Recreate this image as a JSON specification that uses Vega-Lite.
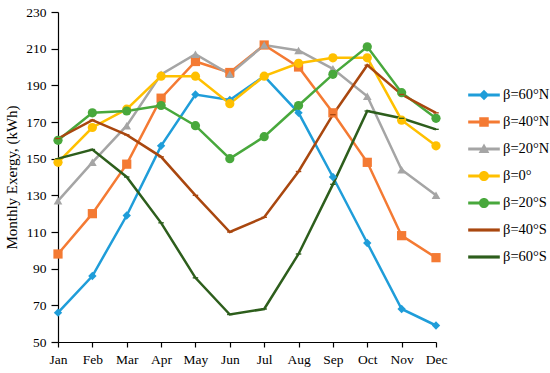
{
  "$schema": "https://vega.github.io/schema/vega-lite/v6.json",
  "autosize": {"type": "none"},
  "padding": {"left": 58, "top": 12, "right": 114, "bottom": 31},
  "width": 378,
  "height": 330,
  "background": "white",
  "config": {
    "view": {"stroke": null},
    "font": "Liberation Serif",
    "axis": {"grid": false, "domainColor": "#000000", "tickColor": "#000000", "labelColor": "#000000", "titleColor": "#000000", "labelFont": "Liberation Serif", "titleFont": "Liberation Serif", "domainWidth": 1.2, "tickWidth": 1.2}
  },
  "data": {"values": [
    {"month": "Jan", "series": "β=60°N", "value": 66},
    {"month": "Feb", "series": "β=60°N", "value": 86},
    {"month": "Mar", "series": "β=60°N", "value": 119},
    {"month": "Apr", "series": "β=60°N", "value": 157},
    {"month": "May", "series": "β=60°N", "value": 185},
    {"month": "Jun", "series": "β=60°N", "value": 182},
    {"month": "Jul", "series": "β=60°N", "value": 195},
    {"month": "Aug", "series": "β=60°N", "value": 175},
    {"month": "Sep", "series": "β=60°N", "value": 140},
    {"month": "Oct", "series": "β=60°N", "value": 104},
    {"month": "Nov", "series": "β=60°N", "value": 68},
    {"month": "Dec", "series": "β=60°N", "value": 59},
    {"month": "Jan", "series": "β=40°N", "value": 98},
    {"month": "Feb", "series": "β=40°N", "value": 120},
    {"month": "Mar", "series": "β=40°N", "value": 147},
    {"month": "Apr", "series": "β=40°N", "value": 183},
    {"month": "May", "series": "β=40°N", "value": 203},
    {"month": "Jun", "series": "β=40°N", "value": 197},
    {"month": "Jul", "series": "β=40°N", "value": 212},
    {"month": "Aug", "series": "β=40°N", "value": 200},
    {"month": "Sep", "series": "β=40°N", "value": 175},
    {"month": "Oct", "series": "β=40°N", "value": 148},
    {"month": "Nov", "series": "β=40°N", "value": 108},
    {"month": "Dec", "series": "β=40°N", "value": 96},
    {"month": "Jan", "series": "β=20°N", "value": 127},
    {"month": "Feb", "series": "β=20°N", "value": 148},
    {"month": "Mar", "series": "β=20°N", "value": 168},
    {"month": "Apr", "series": "β=20°N", "value": 196},
    {"month": "May", "series": "β=20°N", "value": 207},
    {"month": "Jun", "series": "β=20°N", "value": 196},
    {"month": "Jul", "series": "β=20°N", "value": 212},
    {"month": "Aug", "series": "β=20°N", "value": 209},
    {"month": "Sep", "series": "β=20°N", "value": 199},
    {"month": "Oct", "series": "β=20°N", "value": 184},
    {"month": "Nov", "series": "β=20°N", "value": 144},
    {"month": "Dec", "series": "β=20°N", "value": 130},
    {"month": "Jan", "series": "β=0°", "value": 148},
    {"month": "Feb", "series": "β=0°", "value": 167},
    {"month": "Mar", "series": "β=0°", "value": 177},
    {"month": "Apr", "series": "β=0°", "value": 195},
    {"month": "May", "series": "β=0°", "value": 195},
    {"month": "Jun", "series": "β=0°", "value": 180},
    {"month": "Jul", "series": "β=0°", "value": 195},
    {"month": "Aug", "series": "β=0°", "value": 202},
    {"month": "Sep", "series": "β=0°", "value": 205},
    {"month": "Oct", "series": "β=0°", "value": 205},
    {"month": "Nov", "series": "β=0°", "value": 171},
    {"month": "Dec", "series": "β=0°", "value": 157},
    {"month": "Jan", "series": "β=20°S", "value": 160},
    {"month": "Feb", "series": "β=20°S", "value": 175},
    {"month": "Mar", "series": "β=20°S", "value": 176},
    {"month": "Apr", "series": "β=20°S", "value": 179},
    {"month": "May", "series": "β=20°S", "value": 168},
    {"month": "Jun", "series": "β=20°S", "value": 150},
    {"month": "Jul", "series": "β=20°S", "value": 162},
    {"month": "Aug", "series": "β=20°S", "value": 179},
    {"month": "Sep", "series": "β=20°S", "value": 196},
    {"month": "Oct", "series": "β=20°S", "value": 211},
    {"month": "Nov", "series": "β=20°S", "value": 186},
    {"month": "Dec", "series": "β=20°S", "value": 172},
    {"month": "Jan", "series": "β=40°S", "value": 161},
    {"month": "Feb", "series": "β=40°S", "value": 171},
    {"month": "Mar", "series": "β=40°S", "value": 163},
    {"month": "Apr", "series": "β=40°S", "value": 151},
    {"month": "May", "series": "β=40°S", "value": 130},
    {"month": "Jun", "series": "β=40°S", "value": 110},
    {"month": "Jul", "series": "β=40°S", "value": 118},
    {"month": "Aug", "series": "β=40°S", "value": 143},
    {"month": "Sep", "series": "β=40°S", "value": 174},
    {"month": "Oct", "series": "β=40°S", "value": 201},
    {"month": "Nov", "series": "β=40°S", "value": 185},
    {"month": "Dec", "series": "β=40°S", "value": 175},
    {"month": "Jan", "series": "β=60°S", "value": 150},
    {"month": "Feb", "series": "β=60°S", "value": 155},
    {"month": "Mar", "series": "β=60°S", "value": 140},
    {"month": "Apr", "series": "β=60°S", "value": 115},
    {"month": "May", "series": "β=60°S", "value": 85},
    {"month": "Jun", "series": "β=60°S", "value": 65},
    {"month": "Jul", "series": "β=60°S", "value": 68},
    {"month": "Aug", "series": "β=60°S", "value": 98},
    {"month": "Sep", "series": "β=60°S", "value": 136},
    {"month": "Oct", "series": "β=60°S", "value": 176},
    {"month": "Nov", "series": "β=60°S", "value": 172},
    {"month": "Dec", "series": "β=60°S", "value": 166}
  ]},
  "encoding": {
    "x": {"field": "month", "type": "ordinal", "sort": ["Jan","Feb","Mar","Apr","May","Jun","Jul","Aug","Sep","Oct","Nov","Dec"],
      "scale": {"type": "point", "padding": 0},
      "axis": {"title": null, "labelAngle": 0, "labelFontSize": 13.5, "tickSize": 5, "labelPadding": 5}},
    "y": {"field": "value", "type": "quantitative",
      "scale": {"domain": [50, 230], "nice": false, "zero": false},
      "axis": {"title": "Monthly Exergy, (kWh)", "titleFontSize": 15, "titleFontWeight": "normal", "titlePadding": 6, "values": [50,70,90,110,130,150,170,190,210,230], "labelFontSize": 13.5, "tickSize": 7, "labelPadding": 5}},
    "color": {"field": "series", "type": "nominal", "legend": null,
      "scale": {"domain": ["β=60°N","β=40°N","β=20°N","β=0°","β=20°S","β=40°S","β=60°S"],
        "range": ["#1f9dd9","#f47a33","#a5a5a5","#ffc000","#48a83c","#a9470f","#2d5e1c"]}}
  },
  "resolve": {"legend": {"color": "independent", "shape": "independent"}},
  "layer": [
    {"mark": {"type": "line", "strokeWidth": 2.5}},
    {"transform": [{"filter": "datum.series == 'β=60°N'"}],
     "mark": {"type": "point", "filled": true, "opacity": 1, "shape": "diamond", "size": 70}},
    {"transform": [{"filter": "datum.series == 'β=40°N'"}],
     "mark": {"type": "point", "filled": true, "opacity": 1, "shape": "square", "size": 85}},
    {"transform": [{"filter": "datum.series == 'β=20°N'"}],
     "mark": {"type": "point", "filled": true, "opacity": 1, "shape": "triangle-up", "size": 75}},
    {"transform": [{"filter": "datum.series == 'β=0°' || datum.series == 'β=20°S'"}],
     "mark": {"type": "point", "filled": true, "opacity": 1, "shape": "circle", "size": 85}},
    {"transform": [{"filter": "datum.series == 'β=40°S' || datum.series == 'β=60°S'"}],
     "mark": {"type": "point", "filled": true, "opacity": 1, "shape": "M-1,-0.25L1,-0.25L1,0.25L-1,0.25Z", "size": 30}},
    {"mark": {"type": "point", "filled": true, "opacity": 1, "size": 0},
     "encoding": {
       "color": {"field": "series", "type": "nominal",
         "legend": {"title": null, "orient": "none", "legendX": 410, "legendY": 67, "padding": 0, "symbolSize": 1000, "symbolOpacity": 1, "symbolStrokeWidth": 0, "labelFont": "Liberation Serif", "labelFontSize": 14.5, "labelColor": "#000000", "labelOffset": 3, "rowPadding": 4}},
       "shape": {"field": "series", "type": "nominal",
         "scale": {
           "domain": ["β=60°N","β=40°N","β=20°N","β=0°","β=20°S","β=40°S","β=60°S"],
           "range": [
             "M-1,-0.1L1,-0.1L1,0.1L-1,0.1Z M0,-0.33L0.33,0L0,0.33L-0.33,0Z",
             "M-1,-0.1L1,-0.1L1,0.1L-1,0.1Z M-0.3,-0.3L0.3,-0.3L0.3,0.3L-0.3,0.3Z",
             "M-1,-0.1L1,-0.1L1,0.1L-1,0.1Z M0,-0.34L0.34,0.26L-0.34,0.26Z",
             "M-1,-0.1L1,-0.1L1,0.1L-1,0.1Z M-0.32,0A0.32,0.32,0,1,1,0.32,0A0.32,0.32,0,1,1,-0.32,0Z",
             "M-1,-0.1L1,-0.1L1,0.1L-1,0.1Z M-0.32,0A0.32,0.32,0,1,1,0.32,0A0.32,0.32,0,1,1,-0.32,0Z",
             "M-1,-0.1L1,-0.1L1,0.1L-1,0.1Z",
             "M-1,-0.1L1,-0.1L1,0.1L-1,0.1Z"
           ]},
         "legend": {"title": null, "orient": "none", "legendX": 410, "legendY": 67, "padding": 0, "symbolSize": 1000, "symbolOpacity": 1, "symbolStrokeWidth": 0, "labelFont": "Liberation Serif", "labelFontSize": 14.5, "labelColor": "#000000", "labelOffset": 3, "rowPadding": 4}}
     }}
  ]
}
